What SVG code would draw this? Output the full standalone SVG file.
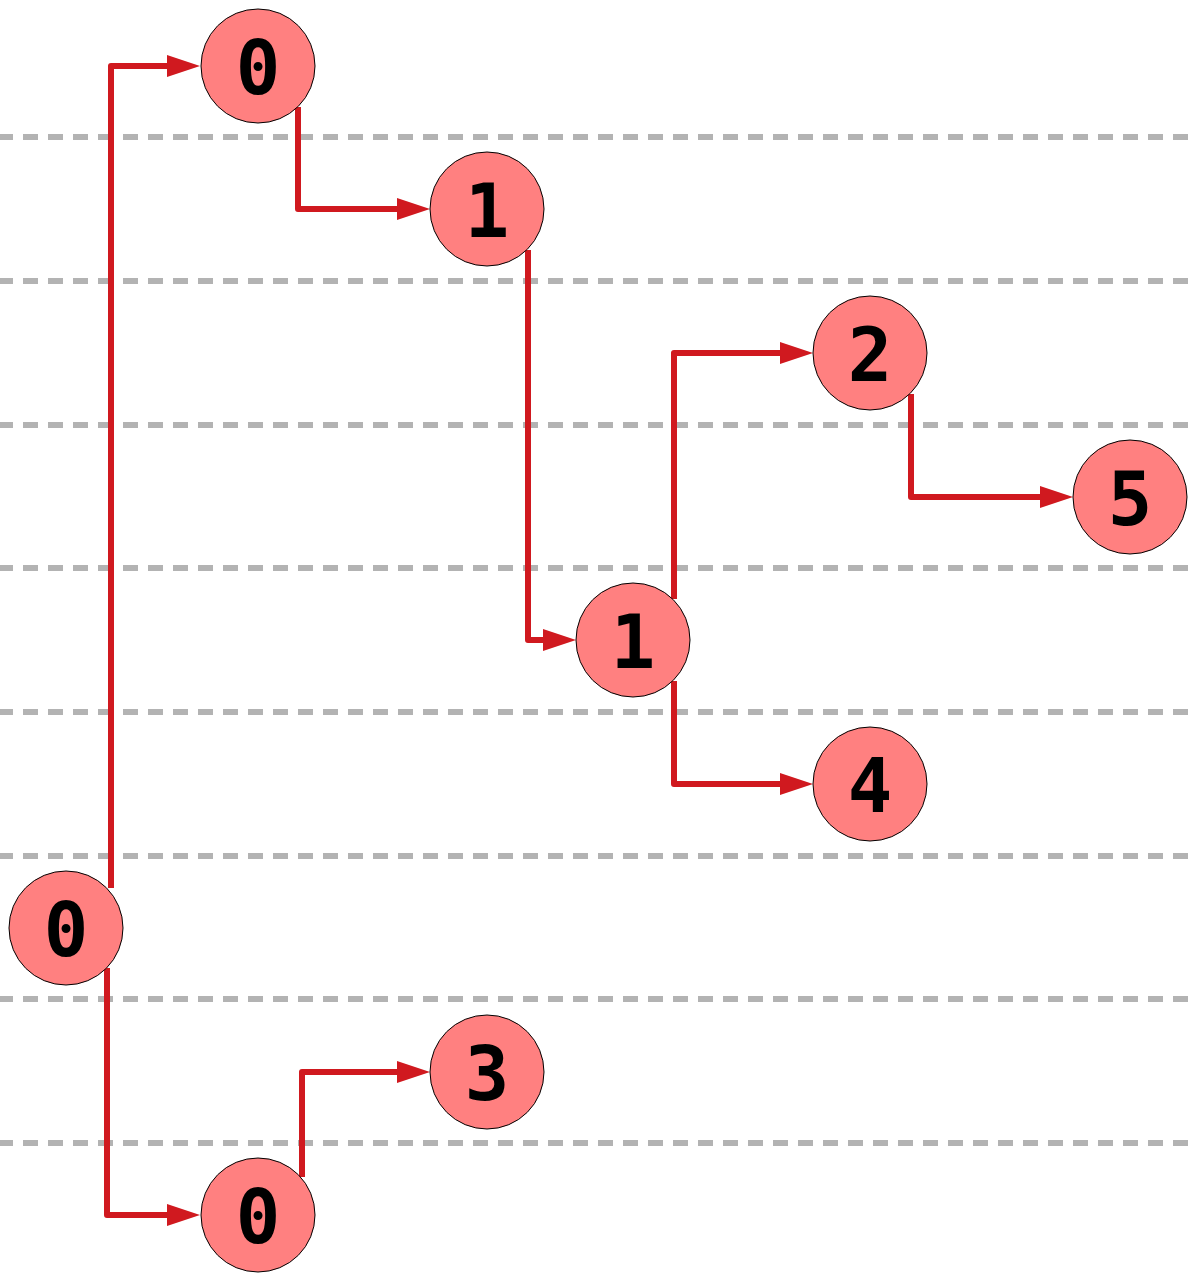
<svg xmlns="http://www.w3.org/2000/svg" width="1189" height="1274" viewBox="0 0 1189 1274">
  <style>
    .grid { stroke: #b3b3b3; stroke-width: 6; stroke-dasharray: 15 10; stroke-dashoffset: 2; fill: none; }
    .edge { stroke: #d0191f; stroke-width: 6; fill: none; stroke-linejoin: round; stroke-linecap: butt; marker-end: url(#arrow); }
    .node circle { fill: #ff8080; stroke: #000; stroke-width: 1; }
    .node text { font-family: "DejaVu Sans Mono", "Liberation Mono", monospace; font-weight: bold; font-size: 74px; text-anchor: middle; fill: #000; }
  </style>
  <defs>
    <marker id="arrow" markerUnits="userSpaceOnUse" markerWidth="34" markerHeight="22" viewBox="0 0 34 22" refX="3" refY="11" orient="auto">
      <path d="M0,0 L33,11 L0,22 z" fill="#d0191f"/>
    </marker>
  </defs>
  <rect width="1189" height="1274" fill="#fff"/>

  <!-- level separators -->
  <g id="grid">
    <line class="grid" x1="0" y1="137" x2="1189" y2="137"/>
    <line class="grid" x1="0" y1="281" x2="1189" y2="281"/>
    <line class="grid" x1="0" y1="425" x2="1189" y2="425"/>
    <line class="grid" x1="0" y1="568" x2="1189" y2="568"/>
    <line class="grid" x1="0" y1="712" x2="1189" y2="712"/>
    <line class="grid" x1="0" y1="856" x2="1189" y2="856"/>
    <line class="grid" x1="0" y1="999" x2="1189" y2="999"/>
    <line class="grid" x1="0" y1="1143" x2="1189" y2="1143"/>
  </g>

  <!-- connectors -->
  <g id="edges">
    <path class="edge" d="M111,888 V66 H170"/>
    <path class="edge" d="M298,107 V209 H400"/>
    <path class="edge" d="M528,250 V640 H546"/>
    <path class="edge" d="M674,599 V353 H783"/>
    <path class="edge" d="M911,394 V497 H1043"/>
    <path class="edge" d="M674,681 V784 H783"/>
    <path class="edge" d="M107,968 V1215 H170"/>
    <path class="edge" d="M302,1177 V1072 H400"/>
  </g>

  <!-- nodes -->
  <g id="node-a" class="node"><circle cx="258" cy="66" r="57"/><text x="258" y="94">0</text></g>
  <g id="node-b" class="node"><circle cx="487" cy="209" r="57"/><text x="487" y="237">1</text></g>
  <g id="node-c" class="node"><circle cx="870" cy="353" r="57"/><text x="870" y="381">2</text></g>
  <g id="node-d" class="node"><circle cx="1130" cy="497" r="57"/><text x="1130" y="525">5</text></g>
  <g id="node-e" class="node"><circle cx="633" cy="640" r="57"/><text x="633" y="668">1</text></g>
  <g id="node-f" class="node"><circle cx="870" cy="784" r="57"/><text x="870" y="812">4</text></g>
  <g id="node-g" class="node"><circle cx="66" cy="928" r="57"/><text x="66" y="956">0</text></g>
  <g id="node-h" class="node"><circle cx="487" cy="1072" r="57"/><text x="487" y="1100">3</text></g>
  <g id="node-i" class="node"><circle cx="258" cy="1215" r="57"/><text x="258" y="1243">0</text></g>
</svg>
